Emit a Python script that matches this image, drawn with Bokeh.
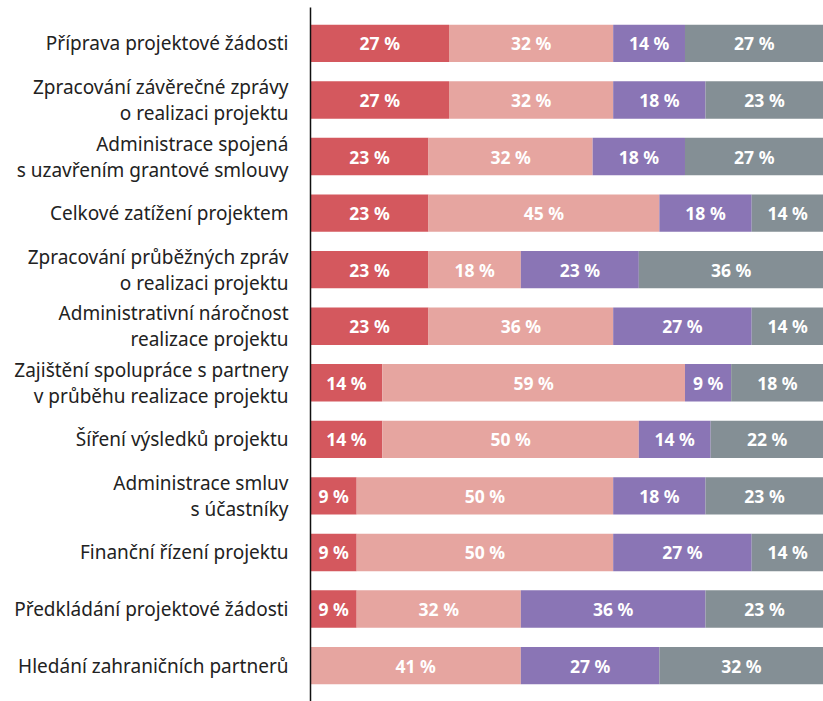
from bokeh.plotting import figure
from bokeh.models import ColumnDataSource, FactorRange, Range1d
from bokeh.core.properties import value
from bokeh.embed import file_html
from bokeh.resources import INLINE

categories = [
    "Příprava projektové žádosti",
    "Zpracování závěrečné zprávy\no realizaci projektu",
    "Administrace spojená\ns uzavřením grantové smlouvy",
    "Celkové zatížení projektem",
    "Zpracování průběžných zpráv\no realizaci projektu",
    "Administrativní náročnost\nrealizace projektu",
    "Zajištění spolupráce s partnery\nv průběhu realizace projektu",
    "Šíření výsledků projektu",
    "Administrace smluv\ns účastníky",
    "Finanční řízení projektu",
    "Předkládání projektové žádosti",
    "Hledání zahraničních partnerů",
]
s1 = [27, 27, 23, 23, 23, 23, 14, 14, 9, 9, 9, 0]
s2 = [32, 32, 32, 45, 18, 36, 59, 50, 50, 50, 32, 41]
s3 = [14, 18, 18, 18, 23, 27, 9, 14, 18, 27, 36, 27]
s4 = [27, 23, 27, 14, 36, 14, 18, 22, 23, 14, 23, 32]
series = ["s1", "s2", "s3", "s4"]
colors = ["#d4585e", "#e6a5a0", "#8a75b5", "#848f95"]

src = ColumnDataSource(dict(cat=categories, s1=s1, s2=s2, s3=s3, s4=s4))

p = figure(
    width=823, height=701,
    y_range=FactorRange(*categories[::-1], range_padding=0.135, range_padding_units="absolute"),
    x_range=Range1d(0, 100),
    output_backend="svg", toolbar_location=None,
    x_axis_location=None,
    min_border_left=310, min_border_right=0, min_border_top=7, min_border_bottom=0,
)
p.hbar_stack(series, y="cat", height=0.66, color=colors, source=src, line_width=0)

vals = [s1, s2, s3, s4]
lx, ly, lt = [], [], []
for i, cat in enumerate(categories):
    left = 0
    for v in vals:
        s = v[i]
        if s > 0:
            lx.append(left + s / 2)
            ly.append(cat)
            lt.append(f"{s} %")
        left += s
lsrc = ColumnDataSource(dict(x=lx, y=ly, t=lt))
p.text(x="x", y="y", text="t", source=lsrc, text_align="center", text_baseline="middle",
       text_color="white", text_font=value("Noto Sans"), text_font_style="bold",
       text_font_size="17.5px")

p.xgrid.visible = False
p.ygrid.visible = False
p.outline_line_color = None
ax = p.yaxis[0]
ax.major_tick_line_color = None
ax.minor_tick_line_color = None
ax.axis_line_color = "#111111"
ax.axis_line_width = 1.5
ax.major_label_text_font = "Noto Sans"
ax.major_label_text_font_size = "19px"
ax.major_label_text_line_height = 1.0
ax.major_label_text_color = "#222222"
ax.major_label_standoff = 16
ax.major_label_text_align = "right"

open("out.html", "w").write(file_html(p, INLINE))
